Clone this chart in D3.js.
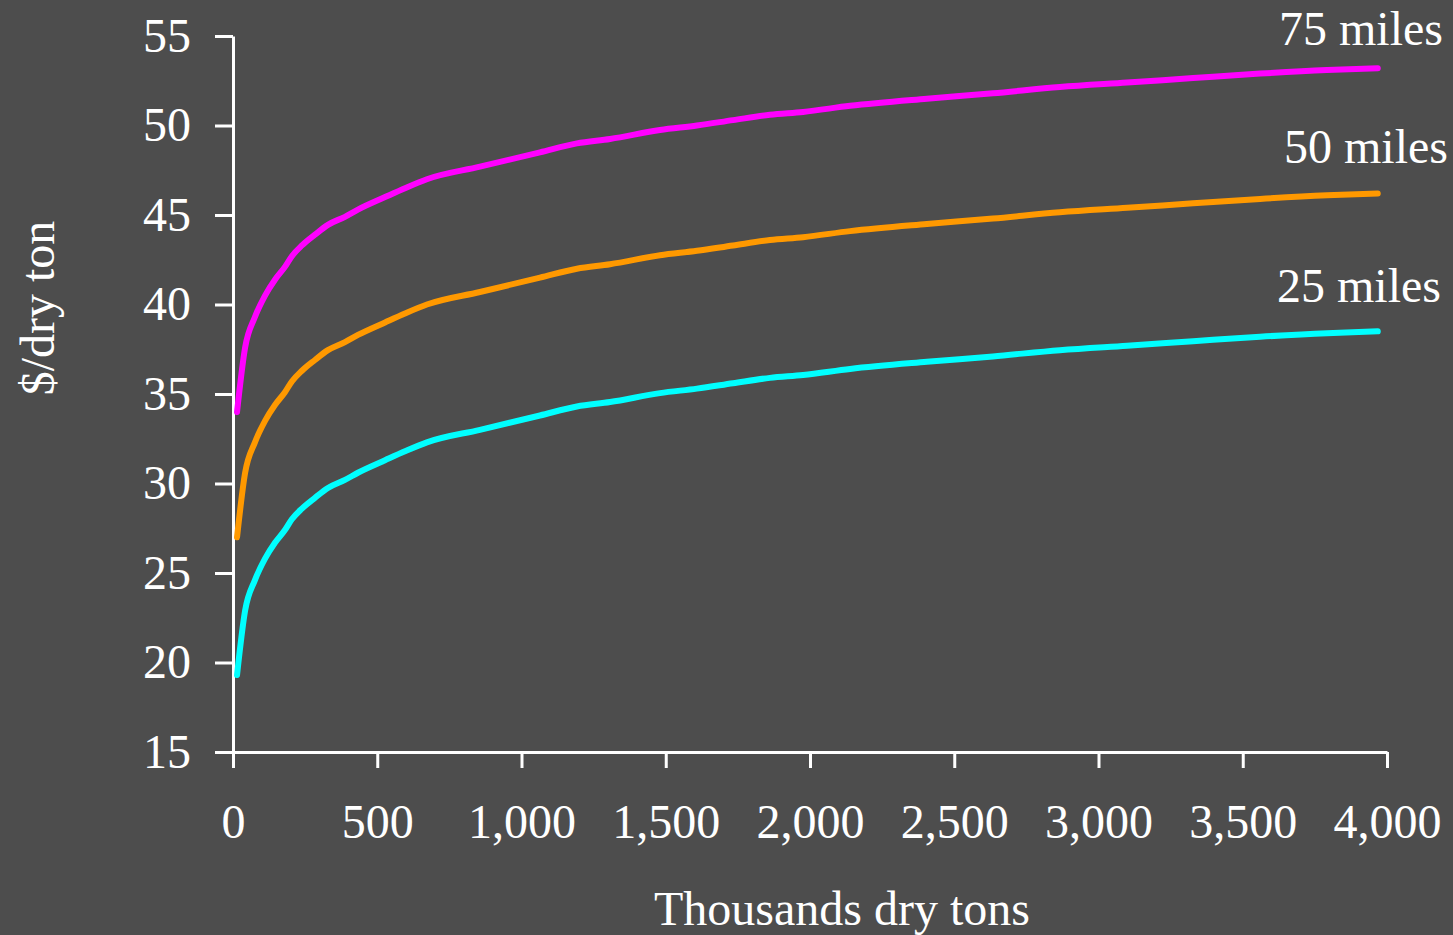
<!DOCTYPE html>
<html><head><meta charset="utf-8">
<script src="https://cdn.jsdelivr.net/npm/d3@7"></script>
<style>
html,body{margin:0;padding:0;background:#4d4d4d;}
svg{display:block;}
text{font-family:"Liberation Serif","Times New Roman",serif;fill:#fff;}
</style></head>
<body>
<svg id="chart" width="1453" height="935"></svg>
<script>
// Thousands of dry tons
const tons = [14, 42, 76, 111, 146, 180, 204, 239, 284, 329, 388, 433, 527, 596, 672, 856, 1064, 1192, 1307, 1480, 1608, 1733, 1861, 1976, 2139, 2405, 2634, 2866, 3099, 3328, 3560, 3792, 3968];
const miles25 = [19.3, 22.9, 24.6, 25.8, 26.7, 27.4, 28.0, 28.6, 29.2, 29.75, 30.2, 30.6, 31.3, 31.8, 32.3, 33.0, 33.8, 34.3, 34.55, 35.05, 35.3, 35.6, 35.9, 36.06, 36.4, 36.8, 37.1, 37.45, 37.7, 37.95, 38.2, 38.4, 38.5];
const miles50 = [27.0, 30.6, 32.3, 33.5, 34.4, 35.1, 35.7, 36.3, 36.9, 37.45, 37.9, 38.3, 39.0, 39.5, 40.0, 40.7, 41.5, 42.0, 42.25, 42.75, 43.0, 43.3, 43.6, 43.76, 44.1, 44.5, 44.8, 45.15, 45.4, 45.65, 45.9, 46.1, 46.2];
const miles75 = [34.0, 37.6, 39.3, 40.5, 41.4, 42.1, 42.7, 43.3, 43.9, 44.45, 44.9, 45.3, 46.0, 46.5, 47.0, 47.7, 48.5, 49.0, 49.25, 49.75, 50.0, 50.3, 50.6, 50.76, 51.1, 51.5, 51.8, 52.15, 52.4, 52.65, 52.9, 53.1, 53.2];
const seriesNames = ["75 miles", "50 miles", "25 miles"];
const xTicks = [0, 500, 1000, 1500, 2000, 2500, 3000, 3500, 4000];
const yTicks = [15, 20, 25, 30, 35, 40, 45, 50, 55];
const xTitle = "Thousands dry tons";
const yTitle = "$/dry ton";

const series = [
  {name: seriesNames[0], values: miles75, color: "#ff00ff", lx: 1279, ly: 45},
  {name: seriesNames[1], values: miles50, color: "#ff9900", lx: 1284, ly: 163},
  {name: seriesNames[2], values: miles25, color: "#00ffff", lx: 1277, ly: 302}
];

const svg = d3.select("#chart");
const mLeft = 233, mRight = 1387, mTop = 36, mBottom = 752;
const x = d3.scaleLinear().domain([0, 4000]).range([mLeft, mRight]);
const y = d3.scaleLinear().domain([15, 55]).range([mBottom, mTop]);

const fs = 48;
const ff = '"Liberation Serif","Times New Roman",serif';

// X axis
const xa = svg.append("g").attr("transform", `translate(0,${mBottom})`)
  .call(d3.axisBottom(x).tickValues(xTicks).tickSize(16).tickSizeOuter(0).tickPadding(36)
    .tickFormat(d3.format(",")));
xa.selectAll("path,line").attr("stroke", "#fff").attr("stroke-width", 3);
xa.selectAll("text").attr("font-size", fs).attr("fill", "#fff").attr("font-family", ff);

// Y axis
const ya = svg.append("g").attr("transform", `translate(${mLeft},0)`)
  .call(d3.axisLeft(y).tickValues(yTicks).tickSize(18).tickSizeOuter(0).tickPadding(24));
ya.selectAll("path,line").attr("stroke", "#fff").attr("stroke-width", 3);
ya.selectAll("text").attr("font-size", fs).attr("fill", "#fff").attr("font-family", ff);

// Lines
const line = d3.line().x((d, i) => x(tons[i])).y(d => y(d)).curve(d3.curveMonotoneX);
series.forEach(s => {
  svg.append("path").datum(s.values)
    .attr("d", line).attr("fill", "none")
    .attr("stroke", s.color).attr("stroke-width", 6)
    .attr("stroke-linecap", "round").attr("stroke-linejoin", "round");
  svg.append("text").attr("x", s.lx).attr("y", s.ly)
    .attr("font-size", fs).text(s.name);
});

// Titles
svg.append("text").attr("x", 842).attr("y", 925).attr("text-anchor", "middle")
  .attr("font-size", fs).text(xTitle);
svg.append("text").attr("transform", "translate(54,308) rotate(-90)")
  .attr("text-anchor", "middle").attr("font-size", fs).text(yTitle);
</script>
</body></html>
